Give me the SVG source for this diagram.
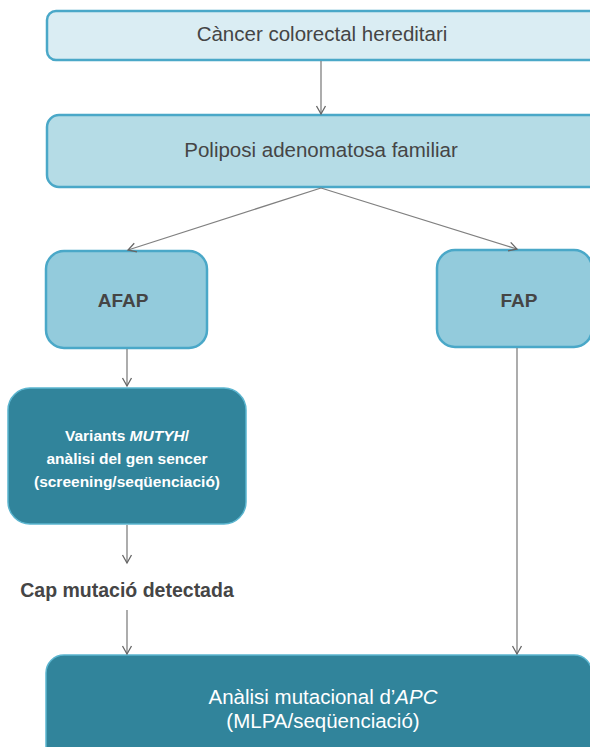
<svg xmlns="http://www.w3.org/2000/svg" width="590" height="747" viewBox="0 0 590 747">
<style>
.lt{fill:#daedf3;stroke:#4aa8c8;stroke-width:2.5}
.md{fill:#b5dce6;stroke:#4aa8c8;stroke-width:2.5}
.mh{fill:#93cbdc;stroke:#4aa8c8;stroke-width:2.5}
.dk{fill:#31849b;stroke:#5bb5cf;stroke-width:1.5}
.g{font-family:"Liberation Sans",Arial,sans-serif;fill:#454545;text-anchor:middle}
.w{font-family:"Liberation Sans",Arial,sans-serif;fill:#ffffff;text-anchor:middle}
.c{fill:none;stroke:#808080;stroke-width:1.3}
</style>
<defs>
<marker id="ah" markerWidth="12" markerHeight="12" refX="10" refY="6" orient="auto" markerUnits="userSpaceOnUse">
<path d="M2,1.5 L10,6 L2,10.5" fill="none" stroke="#666" stroke-width="1.3"/>
</marker>
</defs>
<g id="n1"><rect class="lt" x="47" y="11" width="560" height="49" rx="9"/><text class="g" x="322" y="41" font-size="20.5">Càncer colorectal hereditari</text></g>
<g id="n2"><rect class="md" x="47" y="115" width="560" height="72" rx="12"/><text class="g" x="321" y="157" font-size="20.5">Poliposi adenomatosa familiar</text></g>
<g id="n3"><rect class="mh" x="46" y="251" width="161" height="97" rx="18"/><text class="g" x="123" y="307" font-size="19" font-weight="bold">AFAP</text></g>
<g id="n4"><rect class="mh" x="437" y="250" width="155" height="97" rx="18"/><text class="g" x="519" y="307" font-size="19" font-weight="bold">FAP</text></g>
<g id="n5"><rect class="dk" x="8" y="388" width="238" height="136" rx="22"/><text class="w" x="127" y="441" font-size="15.5" font-weight="bold">Variants <tspan font-style="italic">MUTYH</tspan>/</text><text class="w" x="127" y="464" font-size="15.5" font-weight="bold">anàlisi del gen sencer</text><text class="w" x="127" y="487" font-size="15.5" font-weight="bold">(screening/seqüenciació)</text></g>
<g id="n6"><text class="g" x="127" y="597" font-size="19.5" font-weight="bold">Cap mutació detectada</text></g>
<g id="n7"><rect class="dk" x="46" y="655" width="546" height="110" rx="18"/><text class="w" x="323" y="704" font-size="20.5">Anàlisi mutacional d’<tspan font-style="italic">APC</tspan></text><text class="w" x="323" y="728" font-size="20.5">(MLPA/seqüenciació)</text></g>
<g id="connectors">
<line class="c" x1="321" y1="61" x2="321" y2="114" marker-end="url(#ah)"/>
<line class="c" x1="321" y1="188" x2="128" y2="250" marker-end="url(#ah)"/>
<line class="c" x1="321" y1="188" x2="517" y2="249" marker-end="url(#ah)"/>
<line class="c" x1="127" y1="349" x2="127" y2="386" marker-end="url(#ah)"/>
<line class="c" x1="127" y1="525" x2="127" y2="563" marker-end="url(#ah)"/>
<line class="c" x1="127" y1="610" x2="127" y2="654" marker-end="url(#ah)"/>
<line class="c" x1="517" y1="348" x2="517" y2="654" marker-end="url(#ah)"/>
</g>
</svg>
